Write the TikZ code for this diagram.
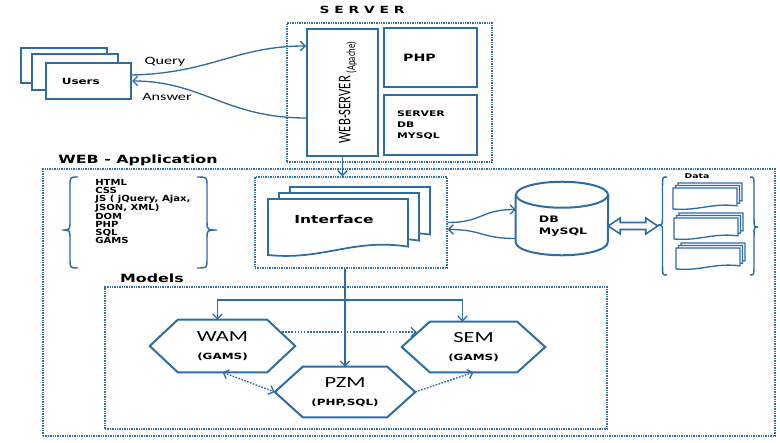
\documentclass[tikz,border=0pt]{standalone}
\usepackage{fontspec}
\usetikzlibrary{arrows.meta, calc}

\newfontfamily\calfont[FakeStretch=1.45]{Carlito}
\newfontfamily\calplain{Carlito}
\newfontfamily\verdfont[FakeStretch=1.4]{DejaVu Sans Bold}
\newfontfamily\verdlist[FakeStretch=1.2]{DejaVu Sans Bold}
\newcommand\bfs[2]{\verdfont\fontsize{#1}{#2}\selectfont}

\definecolor{linkblue}{RGB}{46,108,164}

\tikzset{
  box/.style={draw=linkblue, line width=1.5pt, fill=white},
  dotbox/.style={draw=linkblue, line width=1.1pt, dash pattern=on 1pt off 0.8pt},
  link/.style={draw=linkblue, line width=1pt, -{Straight Barb[length=3.5pt, width=7pt]}},
  dotlink/.style={link, dash pattern=on 1.3pt off 1pt},
  dims/.style 2 args={minimum width=#1*0.75pt, minimum height=#2*0.75pt},
  hexnode/.style={font=\calfont\fontsize{11.6}{13.5}\selectfont, align=center},
}

% sheet with a wavy lower edge: x, y (top left), width, height
\newcommand\docshape[5][1.3pt]{%
  \draw[box, line width=#1] (#2,#3) -- ({#2+#4},#3) -- ({#2+#4},{#3+0.85*#5})
    .. controls ({#2+0.6*#4},{#3+0.7*#5}) and ({#2+0.4*#4},{#3+1.1*#5}) .. (#2,{#3+#5}) -- cycle;}

% curly brace: tip x, arm x, top y, bottom y, tip y
\newcommand\curlybrace[5]{%
  \pgfmathsetmacro\bracemid{(#1+#2)/2}%
  \draw[linkblue, line width=1.1pt] (#2,#3) .. controls (\bracemid,#3) .. (\bracemid,{#3+9})
    -- (\bracemid,{#5-9}) .. controls (\bracemid,#5) .. (#1,#5)
    .. controls (\bracemid,#5) .. (\bracemid,{#5+9})
    -- (\bracemid,{#4-9}) .. controls (\bracemid,#4) .. (#2,#4);}

% flat hexagon round a model node
\newcommand\drawhex[1]{%
  \draw[linkblue, line width=1.5pt] (#1.west) -- ($(#1.north west)+(28,0)$) -- ($(#1.north east)+(-28,0)$)
    -- (#1.east) -- ($(#1.south east)+(-28,0)$) -- ($(#1.south west)+(28,0)$) -- cycle;}

\begin{document}
\begin{tikzpicture}[x=0.75pt, y=-0.75pt]
    \useasboundingbox (0,0) rectangle (780,442);

    % Users stack
    \draw[box] (21,48) rectangle (107,83);
    \draw[box] (32,54) rectangle (118,90);
    \node[box, dims={85}{36}, font=\bfs{6.4}{7}, text width=40pt, align=left] (users) at (88.5,81) {Users};

    % Server block
    \node[font=\bfs{7.4}{9}] (srvtitle) at (362,10) {S E R V E R};
    \node[dotbox, dims={205}{139}] (server) at (389.5,92.5) {};
    \node[box, dims={71}{127}] (websrv) at (342.5,92.5) {};
    \node[font=\calplain\fontsize{9.5}{10}\selectfont, xscale=1.4, rotate=90] (websrvlbl) at (348,92.5)
        {WEB-SERVER \raisebox{-2.5pt}{\fontsize{6.5}{8}\selectfont(Apache)}};
    \node[box, dims={93}{59}, font=\bfs{7.6}{9}, text width=41pt, align=left] (php) at (430.5,57.5) {PHP};
    \node[box, dims={93}{60}, font=\bfs{5.8}{8.2}, text width=50pt, align=left] (srvdb) at (430.5,125)
        {SERVER\\DB\\MYSQL};

    % Query / Answer
    \draw[link] ($(users.east)+(0,-6)$) .. controls +(80,-2) and +(-70,0) .. ($(websrv.north west)+(0,18)$);
    \draw[link] ($(websrv.south west)+(0,-39)$) .. controls +(-80,0) and +(70,0) .. (users.east);
    \node[font=\calfont\fontsize{8.4}{10}\selectfont] (qlbl) at (165,62) {Query};
    \node[font=\calfont\fontsize{8.4}{10}\selectfont] (albl) at (167,97) {Answer};

    % WEB - Application
    \node[dotbox, dims={732}{267}] (webapp) at (409,302.5) {};
    \node[font=\bfs{8.5}{10}] (webapptitle) at (138,160) {WEB - Application};

    % technologies
    \curlybrace{62}{78}{177}{268}{230}
    \curlybrace{217}{197}{177}{268}{230}
    \node[font=\verdlist\fontsize{6.3}{5.9}\selectfont, align=left, inner sep=0, anchor=west] (techlist) at (95,211.5)
        {HTML\\CSS\\JS ( jQuery, Ajax,\\JSON, XML)\\DOM\\PHP\\SQL\\GAMS};

    % Interface
    \node[dotbox, dims={192}{91}] (ifacebox) at (351,222.5) {};
    \foreach \k in {2,1,0}
        \docshape{268+11*\k}{199-6*\k}{140}{56};
    \node[font=\bfs{8.3}{10}] (iface) at (334,219) {Interface};
    \draw[link] (websrv.south) -- (websrv.south |- ifacebox.north);

    % DB cylinder
    \node[dims={92}{73}] (db) at (562,218.5) {};
    \draw[linkblue, line width=1.5pt] ($(db.north)+(0,13)$) ellipse [x radius=46, y radius=13];
    \draw[linkblue, line width=1.5pt] ($(db.north west)+(0,13)$) -- ($(db.south west)+(0,-13)$)
        arc [start angle=180, end angle=0, x radius=46, y radius=13] -- ($(db.north east)+(0,13)$);
    \node[font=\bfs{6.7}{9}, align=left] (dblbl) at (563,226) {DB\\MySQL};
    \draw[link] (ifacebox.east) .. controls +(35,0) and +(-35,0) .. ($(db.west)+(0,-9)$);
    \draw[link] ($(db.west)+(0,20)$) .. controls +(-35,0) and +(35,0) .. ($(ifacebox.east)+(0,7)$);

    % Data
    \node[dims={100}{98}] (data) at (708,226) {};
    \curlybrace{658}{667}{177}{275}{225}
    \curlybrace{758}{750}{177}{275}{227}
    \node[font=\bfs{5}{6}] (datalbl) at (697,176) {Data};
    \foreach \sx/\sy in {673/188, 674/218, 676/248}
        \foreach \k in {2,1,0}
            \docshape[1pt]{\sx+2.5*\k}{\sy-2.5*\k}{64}{21};
    \coordinate (dl) at (db.east |- data.west);
    \coordinate (dr) at (data.west);
    \draw[linkblue, line width=1.2pt, fill=white] (dl) -- ($(dl)+(12,-8)$) -- ($(dl)+(12,-3.5)$)
        -- ($(dr)+(-12,-3.5)$) -- ($(dr)+(-12,-8)$) -- (dr) -- ($(dr)+(-12,8)$) -- ($(dr)+(-12,3.5)$)
        -- ($(dl)+(12,3.5)$) -- ($(dl)+(12,8)$) -- cycle;

    % Models
    \node[dotbox, dims={502}{142}] (models) at (356,358) {};
    \node[font=\bfs{8.5}{10}] (modelslbl) at (152,278) {Models};
    \node[hexnode, dims={145}{52}] (wam) at (222.5,346) {WAM\\{\bfs{6.4}{8}(GAMS)}};
    \node[hexnode, dims={140}{50}] (pzm) at (345,392) {PZM\\{\bfs{6.4}{8}(PHP,SQL)}};
    \node[hexnode, dims={143}{50}] (sem) at (473.5,347) {SEM\\{\bfs{6.4}{8}(GAMS)}};
    \drawhex{wam}
    \drawhex{pzm}
    \drawhex{sem}

    \coordinate (split) at (345,300);
    \draw[link] (pzm.north |- ifacebox.south) -- (pzm.north);
    \draw[link] (split) -| ($(wam.north)+(-5,0)$);
    \draw[link] (split) -| ($(sem.north)+(-11,0)$);
    \draw[dotlink] ($(wam.east)+(-13,-14)$) -- ($(sem.west)+(15,-15)$);
    \draw[dotlink, {Straight Barb[length=3.5pt, width=7pt]}-{Straight Barb[length=3.5pt, width=7pt]}] (wam.south) -- (pzm.west);
    \draw[dotlink] (pzm.east) -- (sem.south);
\end{tikzpicture}
\end{document}
